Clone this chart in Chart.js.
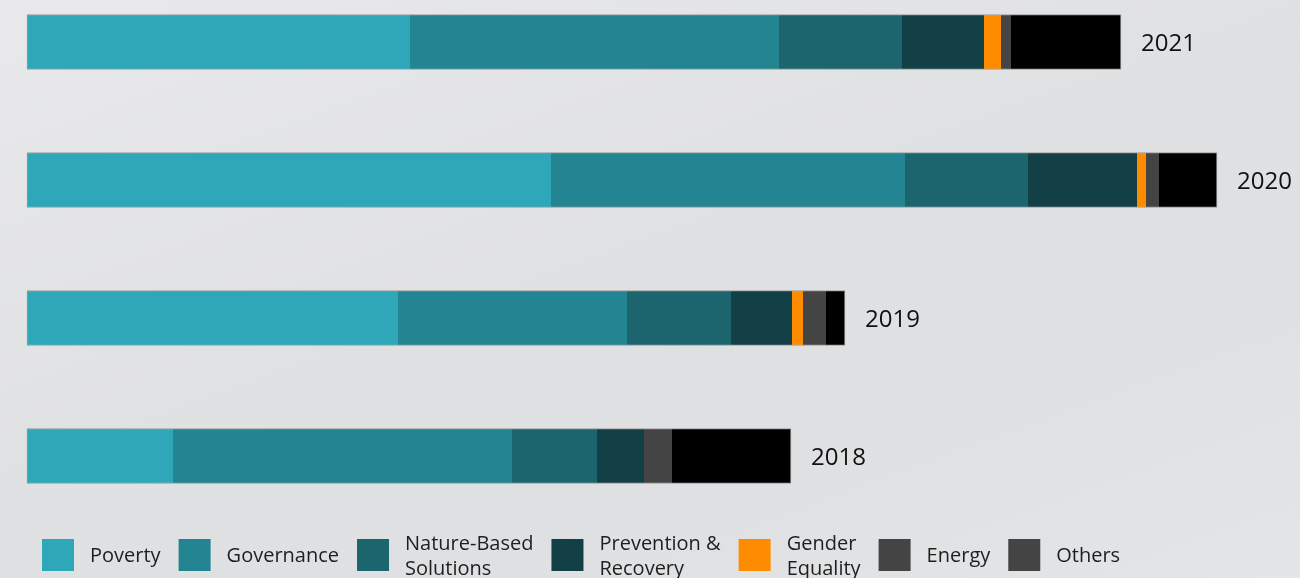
<!DOCTYPE html>
<html>
<head>
<meta charset="utf-8">
<script src="https://cdn.jsdelivr.net/npm/chart.js@4"></script>
<style>
html, body { margin: 0; padding: 0; }
body {
    width: 1300px;
    height: 578px;
    overflow: hidden;
    background: linear-gradient(160deg, #e9e9eb 0%, #e0e1e3 45%, #dfe0e2 70%, #e4e5e7 100%);
}
</style>
</head>
<body>
<canvas id="themesChart" width="1300" height="578"></canvas>
<script>
// years, top to bottom
const years = ["2021", "2020", "2019", "2018"];

// share per theme
const poverty     = [38.3, 52.4, 37.1, 14.6];
const governance  = [36.9, 35.4, 22.9, 33.9];
const natureBased = [12.3, 12.3, 10.4, 8.5];
const prevention  = [8.2, 10.9, 6.1, 4.7];
const gender      = [1.7, 0.9, 1.1, 0];
const energy      = [1.0, 1.3, 2.3, 2.8];
const others      = [11.0, 5.8, 1.9, 11.9];

const themeNames = [
    ["Poverty"],
    ["Governance"],
    ["Nature-Based", "Solutions"],
    ["Prevention &", "Recovery"],
    ["Gender", "Equality"],
    ["Energy"],
    ["Others"]
];
const series = [poverty, governance, natureBased, prevention, gender, energy, others];
const barColors = ["#2ea8b8", "#238591", "#1c646e", "#133f46", "#ff8c00", "#444444", "#000000"];
const legendColors = ["#2ea8b8", "#238591", "#1c646e", "#133f46", "#ff8c00", "#444444", "#444444"];

const datasets = series.map((values, i) => ({
    label: themeNames[i].join(" "),
    data: values,
    backgroundColor: barColors[i],
    borderColor: "rgba(125,125,125,0.7)",
    borderWidth: {
        top: 1,
        bottom: 1,
        left: i === 0 ? 1 : 0,
        right: i === series.length - 1 ? 1 : 0
    },
    borderSkipped: false,
    barThickness: 55,
    clip: false
}));

// year label to the right of each bar
const yearLabels = {
    id: "yearLabels",
    afterDatasetsDraw(chart) {
        const ctx = chart.ctx;
        const last = chart.getDatasetMeta(chart.data.datasets.length - 1);
        ctx.save();
        ctx.font = '24px "Open Sans"';
        ctx.fillStyle = "#111111";
        ctx.textBaseline = "middle";
        ctx.textAlign = "left";
        last.data.forEach((bar, i) => {
            ctx.fillText(chart.data.labels[i], bar.x + 20, bar.y + 2);
        });
        ctx.restore();
    }
};

// legend row along the bottom
const themeLegend = {
    id: "themeLegend",
    afterDraw(chart) {
        const ctx = chart.ctx;
        ctx.save();
        ctx.font = '20px "Open Sans"';
        ctx.textBaseline = "middle";
        ctx.textAlign = "left";
        let x = 42;
        const cy = 555;
        chart.data.datasets.forEach((ds, i) => {
            ctx.fillStyle = legendColors[i];
            ctx.fillRect(x, cy - 16, 32, 32);
            x += 48;
            const lines = themeNames[i];
            ctx.fillStyle = "#1e1e1e";
            let w = 0;
            lines.forEach((line, j) => {
                ctx.fillText(line, x, cy + 1.5 + (j - (lines.length - 1) / 2) * 25);
                w = Math.max(w, ctx.measureText(line).width);
            });
            x += w + 18;
        });
        ctx.restore();
    }
};

new Chart(document.getElementById("themesChart"), {
    type: "bar",
    data: { labels: years, datasets: datasets },
    options: {
        indexAxis: "y",
        responsive: false,
        maintainAspectRatio: false,
        animation: false,
        layout: { padding: { left: 27, right: 0, top: 42, bottom: 122 } },
        scales: {
            x: { stacked: true, min: 0, max: 127.3, display: false },
            y: { stacked: true, offset: false, display: false }
        },
        plugins: {
            legend: { display: false },
            tooltip: { enabled: false }
        }
    },
    plugins: [yearLabels, themeLegend]
});
</script>
</body>
</html>
